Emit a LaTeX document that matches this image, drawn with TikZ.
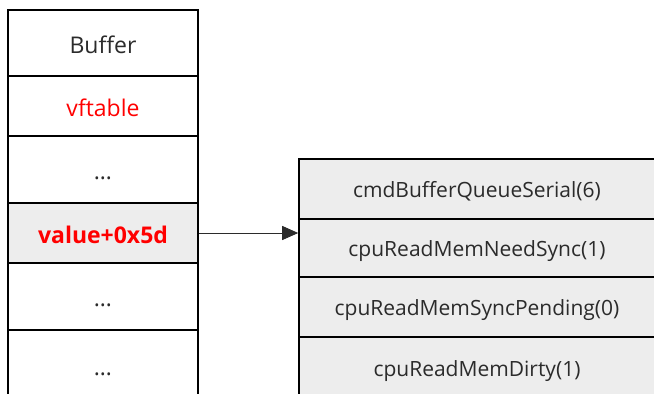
\documentclass[tikz,border=0pt]{standalone}
\usepackage{fontspec}
\setmainfont{Open Sans}
\usetikzlibrary{arrows.meta}
\definecolor{cellgray}{HTML}{EDEDED}
\definecolor{txt}{HTML}{2B2B2B}
\definecolor{redtxt}{HTML}{FF0000}
\tikzset{
  cell/.style={draw=black, line width=1.8pt, minimum width=190pt, inner sep=0pt, text height=24pt, text depth=4pt, font=\fontsize{23}{26}\selectfont, text=txt},
  rcell/.style={draw=black, line width=1.6pt, fill=cellgray, minimum width=356pt, inner sep=0pt, text height=20pt, text depth=4pt, font=\fontsize{21}{24}\selectfont, text=txt},
  link/.style={draw=txt, line width=0.9pt, -{Triangle[length=16pt,width=14pt]}}
}
\begin{document}
\begin{tikzpicture}[x=1pt,y=-1pt]
\useasboundingbox (0,0) rectangle (654,394);
\begin{scope}
\clip (0,0) rectangle (654,394);
\node[cell, minimum height=66pt] (buf) at (103,43) {Buffer};
\node[cell, minimum height=60pt, text=redtxt] (vft) at (103,106) {vftable};
\node[cell, minimum height=67pt] (d1) at (103,169.5) {\ldots};
\node[cell, minimum height=60pt, fill=cellgray, text=redtxt, font=\fontsize{23}{26}\selectfont\bfseries] (val) at (103,233) {value+0x5d};
\node[cell, minimum height=67pt] (d2) at (103,296.5) {\ldots};
\node[cell, minimum height=70pt] (d3) at (103,365) {\ldots};
\node[rcell, minimum height=60pt] (r1) at (477,189) {cmdBufferQueueSerial(6)};
\node[rcell, minimum height=58pt] (r2) at (477,248) {cpuReadMemNeedSync(1)};
\node[rcell, minimum height=60pt] (r3) at (477,307) {cpuReadMemSyncPending(0)};
\node[rcell, minimum height=62pt] (r4) at (477,368) {cpuReadMemDirty(1)};
\draw[link] (val.east) -- (val.east -| r2.west);
\end{scope}
\end{tikzpicture}
\end{document}
